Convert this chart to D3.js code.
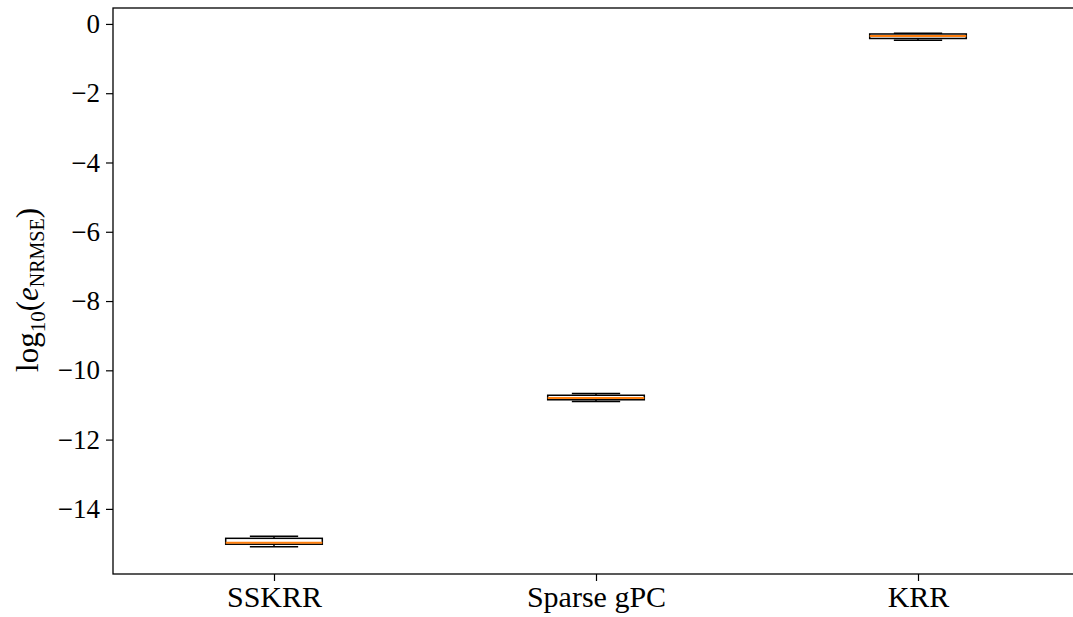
<!DOCTYPE html>
<html>
<head>
<meta charset="utf-8">
<script src="https://cdn.jsdelivr.net/npm/d3@7"></script>
<style>
  body { margin: 0; background: #fff; }
  svg text { font-family: "Liberation Serif", "DejaVu Serif", serif; }
</style>
</head>
<body>
<div id="chart"></div>
<script>
var width = 1073;
var height = 617;

// box stats (log10 of NRMSE)
var methods = ["SSKRR", "Sparse gPC", "KRR"];
var whiskLow = [-15.09, -10.90, -0.47];
var q1 = [-15.02, -10.85, -0.42];
var medians = [-14.98, -10.80, -0.35];
var q3 = [-14.85, -10.72, -0.29];
var whiskHigh = [-14.79, -10.67, -0.27];
var yTicks = [0, -2, -4, -6, -8, -10, -12, -14];

var plotLeft = 113, plotTop = 8, plotBottom = 574, plotRight = 1079;

var svg = d3.select("#chart").append("svg")
  .attr("width", width)
  .attr("height", height);

var xScale = d3.scaleLinear().domain([0.5, 3.5]).range([plotLeft, plotRight]);
var yScale = d3.scaleLinear().domain([-15.88, 0.46]).range([plotBottom, plotTop]);

var boxHalf = (xScale(1.15) - xScale(1)); // box width 0.3
var capHalf = boxHalf / 2;

// boxes
methods.forEach(function(m, i) {
  var cx = xScale(i + 1);
  var g = svg.append("g");
  // whiskers
  g.append("line").attr("x1", cx).attr("x2", cx)
    .attr("y1", yScale(q1[i])).attr("y2", yScale(whiskLow[i]))
    .attr("stroke", "black").attr("stroke-width", 1.5);
  g.append("line").attr("x1", cx).attr("x2", cx)
    .attr("y1", yScale(q3[i])).attr("y2", yScale(whiskHigh[i]))
    .attr("stroke", "black").attr("stroke-width", 1.5);
  // caps
  [whiskLow[i], whiskHigh[i]].forEach(function(v) {
    g.append("line").attr("x1", cx - capHalf).attr("x2", cx + capHalf)
      .attr("y1", yScale(v)).attr("y2", yScale(v))
      .attr("stroke", "black").attr("stroke-width", 1.5);
  });
  // box
  g.append("rect")
    .attr("x", cx - boxHalf)
    .attr("y", yScale(q3[i]))
    .attr("width", boxHalf * 2)
    .attr("height", yScale(q1[i]) - yScale(q3[i]))
    .attr("fill", "none").attr("stroke", "black").attr("stroke-width", 1.5);
  // median
  g.append("line").attr("x1", cx - boxHalf).attr("x2", cx + boxHalf)
    .attr("y1", yScale(medians[i])).attr("y2", yScale(medians[i]))
    .attr("stroke", "#ff7f0e").attr("stroke-width", 2);
});

// frame
svg.append("rect")
  .attr("x", plotLeft).attr("y", plotTop)
  .attr("width", plotRight - plotLeft).attr("height", plotBottom - plotTop)
  .attr("fill", "none").attr("stroke", "black").attr("stroke-width", 1.3);

// y axis
var yAxis = d3.axisLeft(yScale).tickValues(yTicks).tickSize(7).tickPadding(6)
  .tickFormat(function(d) { return d < 0 ? "\u2212" + Math.abs(d) : d; });
var ya = svg.append("g").attr("transform", "translate(" + plotLeft + ",0)").call(yAxis);
ya.select(".domain").remove();
ya.selectAll("line").attr("stroke-width", 1.2);
ya.selectAll("text").attr("font-size", 27).attr("font-family", "Liberation Serif");

// x axis
var xAxis = d3.axisBottom(xScale).tickValues([1, 2, 3]).tickSize(7).tickPadding(5)
  .tickFormat(function(d) { return methods[d - 1]; });
var xa = svg.append("g").attr("transform", "translate(0," + plotBottom + ")").call(xAxis);
xa.select(".domain").remove();
xa.selectAll("line").attr("stroke-width", 1.2);
xa.selectAll("text").attr("font-size", 30).attr("font-family", "Liberation Serif");

// y label
var yl = svg.append("text")
  .attr("transform", "translate(38,290) rotate(-90)")
  .attr("text-anchor", "middle")
  .attr("font-size", 31);
yl.append("tspan").text("log");
yl.append("tspan").attr("font-size", 21).attr("dy", 7).text("10");
yl.append("tspan").attr("dy", -7).text("(");
yl.append("tspan").attr("font-style", "italic").text("e");
yl.append("tspan").attr("font-size", 20).attr("dy", 6).text("NRMSE");
yl.append("tspan").attr("dy", -6).text(")");
</script>
</body>
</html>
